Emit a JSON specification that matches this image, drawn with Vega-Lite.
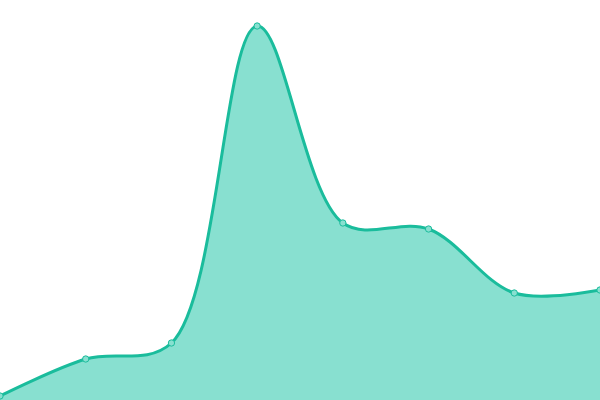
{
  "$schema": "https://vega.github.io/schema/vega-lite/v6.json",
  "width": 600,
  "height": 400,
  "autosize": {"type": "none"},
  "padding": 0,
  "background": "white",
  "config": {"view": {"stroke": null}},
  "data": {
    "values": [
      {"i": 0, "v": 4},
      {"i": 1, "v": 41},
      {"i": 2, "v": 57},
      {"i": 3, "v": 374},
      {"i": 4, "v": 177},
      {"i": 5, "v": 171},
      {"i": 6, "v": 107},
      {"i": 7, "v": 110}
    ]
  },
  "encoding": {
    "x": {"field": "i", "type": "quantitative", "scale": {"domain": [0, 7], "nice": false}, "axis": null},
    "y": {"field": "v", "type": "quantitative", "scale": {"domain": [0, 400], "nice": false}, "axis": null}
  },
  "layer": [
    {
      "mark": {"type": "area", "interpolate": "catmull-rom", "color": "#88e0d0", "opacity": 1, "clip": true,
        "line": {"color": "#1abc9c", "strokeWidth": 3}}
    },
    {
      "mark": {"type": "point", "filled": true, "size": 40, "fill": "#88e0d0", "stroke": "#1abc9c", "strokeWidth": 1, "opacity": 1}
    }
  ]
}
